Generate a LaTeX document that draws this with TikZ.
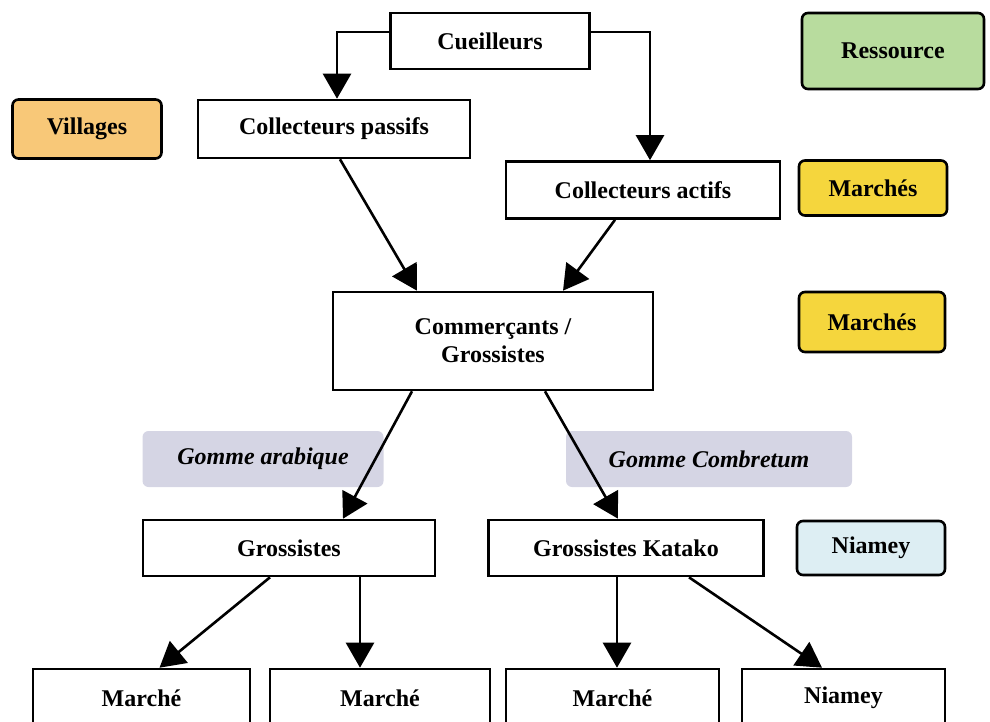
\documentclass[tikz,border=0pt]{standalone}
\usepackage{fontspec}
\setmainfont{Liberation Serif}
\usetikzlibrary{arrows.meta, calc}
\definecolor{resgreen}{RGB}{184, 220, 158}
\definecolor{villorange}{RGB}{248, 200, 120}
\definecolor{martyellow}{RGB}{245, 214, 61}
\definecolor{niamblue}{RGB}{221, 238, 243}
\definecolor{gomlav}{RGB}{213, 213, 228}
\tikzset{
  chbox/.style={draw, line width=1.3pt, font=\fontsize{12}{14}\selectfont\bfseries, align=center, inner sep=2pt},
  legbox/.style={chbox, rounded corners=3pt},
  resnode/.style={legbox, fill=resgreen},
  villnode/.style={legbox, fill=villorange},
  martnode/.style={legbox, fill=martyellow},
  niamnode/.style={legbox, fill=niamblue},
  gomnode/.style={rounded corners=3pt, fill=gomlav, font=\fontsize{12}{14}\selectfont\bfseries\itshape},
  flow/.style={-{Triangle[width=14pt, length=12.5pt]}, line width=1.3pt},
}
\begin{document}
\begin{tikzpicture}[x=0.5pt, y=-0.5pt]
  \path[use as bounding box, clip] (0,0) rectangle (990,722);
  % chain
  \node[chbox, minimum width=99.5pt, minimum height=28pt] (cueil) at (490,41) {Cueilleurs};
  \node[chbox, minimum width=136pt, minimum height=29pt] (passifs) at (334,129) {Collecteurs passifs};
  \node[chbox, minimum width=137pt, minimum height=28.5pt] (actifs) at (643,190) {Collecteurs actifs};
  \node[chbox, minimum width=160pt, minimum height=49pt] (comm) at (493,341) {Commerçants /\\Grossistes};
  \node[chbox, minimum width=146pt, minimum height=28pt] (gross) at (289,548) {Grossistes};
  \node[chbox, minimum width=137.5pt, minimum height=28pt] (katako) at (626,548) {Grossistes Katako};
  \node[chbox, minimum width=108.5pt, minimum height=29pt] (march1) at (141.5,698) {Marché};
  \node[chbox, minimum width=110pt, minimum height=29pt] (march2) at (380,698) {Marché};
  \node[chbox, minimum width=106.5pt, minimum height=29pt] (march3) at (612.5,698) {Marché};
  \node[chbox, minimum width=101.5pt, minimum height=29pt] (niam2) at (843.5,698) {Niamey};
  % gum types
  \node[gomnode, minimum width=120.5pt, minimum height=28pt] (garab) at (263,459) {Gomme arabique};
  \node[gomnode, minimum width=143pt, minimum height=28pt] (gcomb) at (709,459) {Gomme Combretum};
  % legend
  \node[resnode, minimum width=91pt, minimum height=38pt] (ress) at (893,51) {Ressource};
  \node[villnode, minimum width=74.5pt, minimum height=29.5pt] (vill) at (87,129) {Villages};
  \node[martnode, minimum width=74pt, minimum height=27.5pt] (marts1) at (873,188) {Marchés};
  \node[martnode, minimum width=73pt, minimum height=30pt] (marts2) at (872,322) {Marchés};
  \node[niamnode, minimum width=74pt, minimum height=27pt] (niam1) at (871,548) {Niamey};
  % arrows
  \draw[flow] ($(cueil.west)+(0,-9)$) -| ($(passifs.north)+(3,0)$);
  \draw[flow] ($(cueil.east)+(0,-9)$) -| ($(actifs.north)+(7,0)$);
  \foreach \a/\da/\b/\db in {passifs/6/comm/-76, actifs/-28/comm/70, comm/-81/gross/54,
      comm/52/katako/-8, gross/-19/march1/18, gross/71/march2/-20,
      katako/-9/march3/4.5, katako/63/niam2/-21.5}
    \draw[flow] ($(\a.south)+(\da,0)$) -- ($(\b.north)+(\db,0)$);
\end{tikzpicture}
\end{document}
